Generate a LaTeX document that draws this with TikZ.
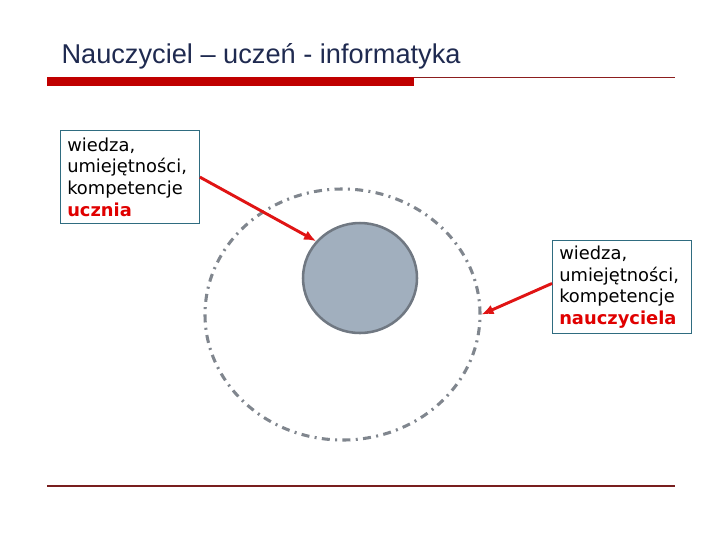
\documentclass[tikz,border=0pt]{standalone}
\usepackage{fontspec}
\setmainfont{DejaVu Sans}
\newfontfamily\titlefont{Liberation Sans}
\usetikzlibrary{shapes.geometric,arrows.meta}

\tikzset{every picture/.style={line width=0.75pt}}

\begin{document}
\begin{tikzpicture}[x=0.75pt,y=0.75pt,yscale=-1,xscale=1,
    infobox/.style={draw={rgb,255:red,47;green,108;blue,128},line width=0.9pt,fill=white,
        anchor=north west,minimum width=102.75pt,minimum height=69.75pt,
        inner xsep=5pt,inner ysep=0pt,align=left,text width=94pt,
        font=\fontsize{13.4}{16.2}\selectfont},
    pointer/.style={color={rgb,255:red,224;green,20;blue,20},line width=2.2pt,
        -{Latex[length=9pt,width=7.5pt]}}]
    \path (0,0) rectangle (720,540); %set diagram size 720 x 540

    %Shape: Ellipse (outer, dash dot)
    \node [draw={rgb,255:red,128;green,134;blue,142},line width=2.3pt,
        dash pattern=on 6pt off 4pt on 1.5pt off 4pt,
        ellipse,minimum width=206.25pt,minimum height=188.25pt,inner sep=0pt]
        (outer) at (342.5,314.5) {};
    %Shape: Ellipse (inner, filled)
    \node [draw={rgb,255:red,112;green,120;blue,130},fill={rgb,255:red,161;green,175;blue,190},
        line width=1.9pt,ellipse,minimum width=85.5pt,minimum height=82.5pt,inner sep=0pt]
        (inner) at (360,278) {};

    %Shape: Rectangle (red bar)
    \fill [color={rgb,255:red,192;green,0;blue,0}] (47,77) rectangle (414,85.5);
    %Straight Lines
    \draw [color={rgb,255:red,140;green,30;blue,30},line width=1.1pt] (414,77.5) -- (675,77.5);
    %Straight Lines
    \draw [color={rgb,255:red,120;green,30;blue,30},line width=1.4pt] (47,486) -- (675,486);

    % Text Node
    \node [anchor=base west,inner sep=0pt,color={rgb,255:red,31;green,42;blue,80},
        font=\titlefont\fontsize{20.4}{24}\selectfont] (title) at (61,63)
        {Nauczyciel – uczeń - informatyka};
    % Text Node
    \node [infobox] (uczen) at (60,130)
        {wiedza,\\umiejętności,\\kompetencje\\\textbf{\textcolor{red!88!black}{ucznia}}};
    % Text Node
    \node [infobox] (nauczyciel) at (552,240)
        {wiedza,\\umiejętności,\\kompetencje\\\textbf{\textcolor{red!88!black}{nauczyciela}}};

    %Straight Lines
    \draw [pointer] (uczen.east) -- (inner.140);
    %Straight Lines
    \draw [pointer] (nauczyciel.177) -- (outer.east);

\end{tikzpicture}
\end{document}
